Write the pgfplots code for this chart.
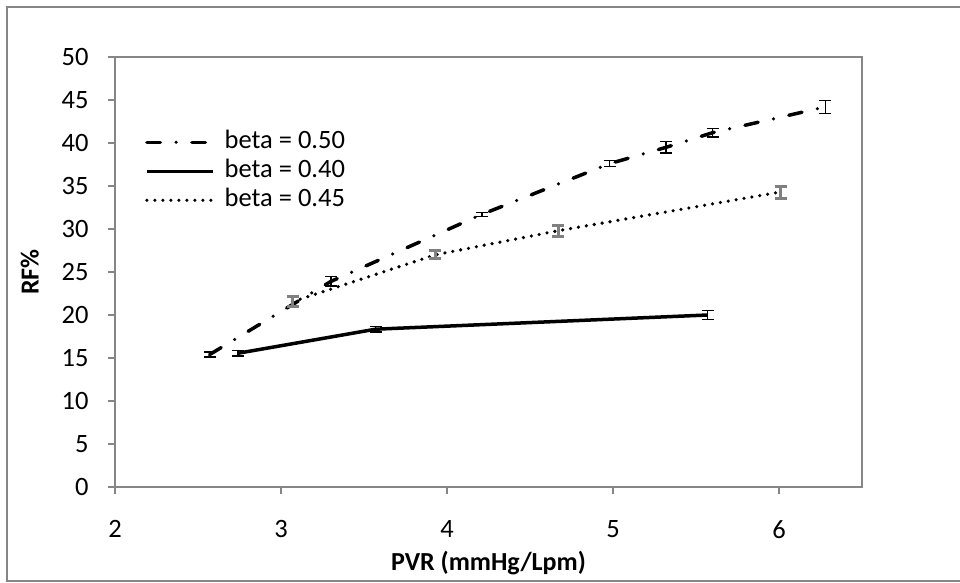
\documentclass[border=0pt]{standalone}
\usepackage{fontspec}
\setmainfont{Carlito}
\usepackage{pgfplots}
\pgfplotsset{compat=1.18}
\definecolor{axgray}{RGB}{134,134,134}
\definecolor{errgray}{RGB}{128,128,128}
\pgfplotstableread{
x y e
2.57 15.4 0.3
3.30 23.9 0.55
4.21 31.7 0.23
4.98 37.6 0.35
5.32 39.5 0.67
5.60 41.2 0.5
6.28 44.2 0.75
}\betaA
\pgfplotstableread{
x y e
2.74 15.55 0.3
3.57 18.35 0.3
5.57 20.0 0.5
}\betaB
\pgfplotstableread{
x y e
3.07 21.55 0.58
3.93 27.0 0.45
4.67 29.8 0.64
6.01 34.3 0.7
}\betaC
\begin{document}
\begin{tikzpicture}[x=1pt,y=1pt]
\begin{axis}[
  at={(115pt,95pt)}, anchor=south west, scale only axis,
  width=747pt, height=430pt,
  xmin=2, xmax=6.5, ymin=0, ymax=50,
  xtick={2,3,4,5,6}, ytick={0,5,...,50},
  xtick pos=bottom, ytick pos=left, tick align=outside,
  major tick length=7pt,
  axis line style={axgray, line width=1.5pt},
  tick style={axgray, line width=1.5pt},
  /pgf/number format/assume math mode=true,
  ticklabel style={font=\fontsize{26.5}{31}\selectfont},
  yticklabel style={xshift=-16pt},
  xticklabel style={yshift=-23pt},
  xlabel={\textbf{PVR (mmHg/Lpm)}},
  ylabel={\textbf{RF\%}},
  label style={font=\fontsize{26}{31}\selectfont},
  xlabel style={at={(axis description cs:0.5,-0.177)}, anchor=center},
  ylabel style={at={(axis description cs:-0.114,0.5)}, anchor=center},
  legend image code/.code={\draw[#1] (0pt,0pt) -- (66pt,0pt);},
  legend cell align=left,
  legend style={draw=none, fill=none, at={(axis description cs:0.040,0.830)},
    anchor=north west, font=\fontsize{26.5}{31}\selectfont, inner sep=0pt,
    row sep=5pt, nodes={inner sep=0pt, text height=18pt, text depth=6pt},
    /tikz/every odd column/.append style={column sep=10pt}},
]
\addplot[black, line width=3.5pt, line cap=round, dash pattern=on 13.5pt off 15.75pt on 0pt off 15.75pt,
  error bars/.cd, y dir=both, y explicit,
  error bar style={line width=1.5pt, black, solid, line cap=butt},
  error mark options={rotate=90, mark size=6pt, line width=1.5pt, black, solid}]
  table[x=x, y=y, y error=e] {\betaA};
\addlegendentry{beta = 0.50}
\addplot[black, line width=3.5pt,
  error bars/.cd, y dir=both, y explicit,
  error bar style={line width=1.5pt, black, solid},
  error mark options={rotate=90, mark size=6pt, line width=1.5pt, black, solid}]
  table[x=x, y=y, y error=e] {\betaB};
\addlegendentry{beta = 0.40}
\addplot[black, line width=3.6pt, line cap=round, dash pattern=on 0pt off 8pt,
  error bars/.cd, y dir=both, y explicit,
  error bar style={line width=3pt, errgray, solid, line cap=butt},
  error mark options={rotate=90, mark size=6pt, line width=3pt, errgray, solid}]
  table[x=x, y=y, y error=e] {\betaC};
\addlegendentry{beta = 0.45}
\end{axis}
\draw[axgray, line width=1.5pt] (960,575) -- (7,575) -- (7,1) -- (960,1);
\draw[axgray, line width=1.5pt] (115,95) rectangle (862,525);
\pgfresetboundingbox
\path (0,0) rectangle (960,582);
\end{tikzpicture}
\end{document}
